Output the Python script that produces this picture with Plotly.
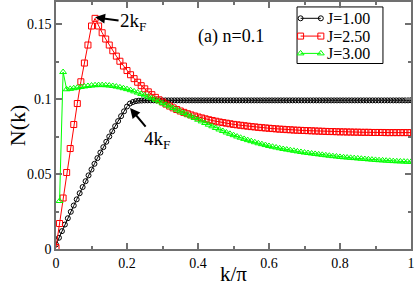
import plotly.graph_objects as go

# ---------------- data ----------------
# J = 1.00 (black circles), k/pi on a 1/120 grid
k_j1 = [i / 120 for i in range(121)]
n_j1 = [0.0030, 0.0075, 0.0119, 0.0163, 0.0205, 0.0248, 0.0290, 0.0331, 0.0372, 0.0413,
        0.0452, 0.0491, 0.0530, 0.0568, 0.0606, 0.0643, 0.0679, 0.0715, 0.0750, 0.0785,
        0.0819, 0.0853, 0.0886, 0.0918, 0.0950, 0.0970, 0.0980, 0.0986, 0.0989, 0.0990,
        0.0991, 0.0991, 0.0991, 0.0991, 0.0991, 0.0991, 0.0991, 0.0991, 0.0991, 0.0991,
        0.0991, 0.0991, 0.0991, 0.0991, 0.0991, 0.0991, 0.0991, 0.0991, 0.0991, 0.0991,
        0.0991, 0.0991, 0.0991, 0.0991, 0.0991, 0.0991, 0.0991, 0.0991, 0.0991, 0.0991,
        0.0991, 0.0991, 0.0991, 0.0991, 0.0991, 0.0991, 0.0991, 0.0991, 0.0991, 0.0991,
        0.0991, 0.0991, 0.0991, 0.0991, 0.0991, 0.0991, 0.0991, 0.0991, 0.0991, 0.0991,
        0.0991, 0.0991, 0.0991, 0.0991, 0.0991, 0.0991, 0.0991, 0.0991, 0.0991, 0.0991,
        0.0991, 0.0991, 0.0991, 0.0991, 0.0991, 0.0991, 0.0991, 0.0991, 0.0991, 0.0991,
        0.0991, 0.0991, 0.0991, 0.0991, 0.0991, 0.0991, 0.0991, 0.0991, 0.0991, 0.0991,
        0.0991, 0.0991, 0.0991, 0.0991, 0.0991, 0.0991, 0.0991, 0.0991, 0.0991, 0.0991,
        0.0992]

# J = 2.50 (red squares), k/pi on a 1/100 grid
k_j25 = [i / 100 for i in range(101)]
n_j25 = [0.0010, 0.0170, 0.0340, 0.0510, 0.0670, 0.0830, 0.0970, 0.1115, 0.1240, 0.1360,
         0.1487, 0.1538, 0.1487, 0.1442, 0.1400, 0.1360, 0.1322, 0.1286, 0.1252, 0.1220,
         0.1190, 0.1162, 0.1136, 0.1112, 0.1089, 0.1068, 0.1048, 0.1029, 0.1011, 0.0995,
         0.0980, 0.0966, 0.0953, 0.0941, 0.0930, 0.0920, 0.0911, 0.0902, 0.0894, 0.0887,
         0.0880, 0.0874, 0.0868, 0.0862, 0.0857, 0.0852, 0.0847, 0.0843, 0.0839, 0.0835,
         0.0831, 0.0828, 0.0825, 0.0822, 0.0819, 0.0816, 0.0814, 0.0811, 0.0809, 0.0807,
         0.0805, 0.0803, 0.0801, 0.0799, 0.0798, 0.0796, 0.0795, 0.0793, 0.0792, 0.0791,
         0.0790, 0.0789, 0.0788, 0.0787, 0.0786, 0.0785, 0.0784, 0.0783, 0.0783, 0.0782,
         0.0781, 0.0781, 0.0780, 0.0780, 0.0779, 0.0779, 0.0778, 0.0778, 0.0778, 0.0777,
         0.0777, 0.0777, 0.0777, 0.0776, 0.0776, 0.0776, 0.0776, 0.0776, 0.0776, 0.0776,
         0.0776]

# J = 3.00 (green triangles), k/pi on a 1/100 grid starting at 0.01
k_j3 = [i / 100 for i in range(1, 101)]
n_j3 = [0.0320, 0.1180, 0.1065, 0.1068, 0.1072, 0.1076, 0.1080, 0.1084, 0.1087, 0.1090,
        0.1092, 0.1093, 0.1093, 0.1092, 0.1090, 0.1087, 0.1083, 0.1078, 0.1072, 0.1066,
        0.1059, 0.1051, 0.1043, 0.1034, 0.1025, 0.1015, 0.1005, 0.0995, 0.0984, 0.0973,
        0.0962, 0.0951, 0.0940, 0.0929, 0.0918, 0.0907, 0.0896, 0.0885, 0.0874, 0.0862,
        0.0851, 0.0840, 0.0829, 0.0818, 0.0807, 0.0797, 0.0787, 0.0777, 0.0768, 0.0759,
        0.0750, 0.0742, 0.0734, 0.0726, 0.0719, 0.0712, 0.0705, 0.0699, 0.0693, 0.0687,
        0.0682, 0.0677, 0.0672, 0.0667, 0.0663, 0.0659, 0.0655, 0.0651, 0.0647, 0.0643,
        0.0640, 0.0637, 0.0634, 0.0631, 0.0628, 0.0625, 0.0622, 0.0619, 0.0617, 0.0614,
        0.0612, 0.0610, 0.0608, 0.0606, 0.0604, 0.0602, 0.0600, 0.0598, 0.0596, 0.0594,
        0.0592, 0.0591, 0.0589, 0.0588, 0.0586, 0.0585, 0.0584, 0.0583, 0.0582, 0.0581]

series_names = ["J=1.00", "J=2.50", "J=3.00"]
series_colors = ["black", "red", "#00ff00"]
series_symbols = ["circle-open", "square-open", "triangle-up-open"]
series_sizes = [5, 6, 6]
x_tickvals = [0, 0.2, 0.4, 0.6, 0.8, 1.0]
x_ticktext = ["0", "0.2", "0.4", "0.6", "0.8", "1"]
y_tickvals = [0, 0.05, 0.1, 0.15]
y_ticktext = ["0", "0.05", "0.1", "0.15"]

FONT = "Liberation Serif"
AXC = "#707070"

fig = go.Figure()
for kx, ny, i in [(k_j1, n_j1, 0), (k_j25, n_j25, 1), (k_j3, n_j3, 2)]:
    fig.add_trace(go.Scatter(x=kx, y=ny, mode="lines+markers", name=series_names[i],
                             showlegend=False,
                             line=dict(color=series_colors[i], width=1),
                             marker=dict(symbol=series_symbols[i], size=series_sizes[i],
                                         color=series_colors[i], line=dict(width=1))))

# custom legend (drawn on an overlay axis spanning the plot area, 0..1)
leg_rows = [0.934, 0.862, 0.792]
for i in range(3):
    fig.add_trace(go.Scatter(x=[0.689, 0.746], y=[leg_rows[i], leg_rows[i]],
                             xaxis="x2", yaxis="y2", mode="lines+markers", showlegend=False,
                             hoverinfo="skip",
                             line=dict(color=series_colors[i], width=1),
                             marker=dict(symbol=series_symbols[i], size=series_sizes[i],
                                         color=series_colors[i], line=dict(width=1))))
    fig.add_annotation(x=0.757, y=leg_rows[i], xref="paper", yref="paper",
                       text=series_names[i], showarrow=False, xanchor="left", yanchor="middle",
                       font=dict(family=FONT, size=16, color="black"))
fig.add_shape(type="rect", xref="paper", yref="paper", x0=0.679, x1=0.921, y0=0.751, y1=0.980,
              line=dict(color="black", width=1), fillcolor="white", layer="below")

axis_common = dict(showgrid=False, zeroline=False, showline=True, linecolor=AXC, linewidth=1.5,
                   mirror="allticks", ticks="inside", ticklen=6, tickcolor=AXC, tickwidth=1.5,
                   automargin=False,
                   tickfont=dict(family=FONT, size=14, color="black"))

fig.update_xaxes(range=[0, 1], tickvals=x_tickvals, ticktext=x_ticktext,
                 minor=dict(dtick=0.1, tick0=0, ticks="inside", ticklen=3, tickcolor=AXC, tickwidth=1.5),
                 **axis_common)
fig.update_yaxes(range=[0, 0.1647], tickvals=y_tickvals, ticktext=y_ticktext,
                 minor=dict(dtick=0.025, tick0=0, ticks="inside", ticklen=3, tickcolor=AXC, tickwidth=1.5),
                 **axis_common)

fig.update_layout(
    xaxis2=dict(overlaying="x", range=[0, 1], visible=False, fixedrange=True),
    yaxis2=dict(overlaying="y", range=[0, 1], visible=False, fixedrange=True),
)

# axis titles
fig.add_annotation(x=0.5, y=-0.103, xref="paper", yref="paper", text="k/π", showarrow=False,
                   xanchor="center", yanchor="middle",
                   font=dict(family=FONT, size=21, color="black"))
fig.add_annotation(x=-0.108, y=0.5, xref="paper", yref="paper", text="N(k)", showarrow=False,
                   xanchor="center", yanchor="middle", textangle=-90,
                   font=dict(family=FONT, size=22, color="black"))

# labelled arrows
fig.add_annotation(x=0.110, y=0.1545, xref="x", yref="y", ax=38, ay=5,
                   text="2k<sub>F</sub>", showarrow=True, arrowhead=2, arrowsize=1,
                   arrowwidth=2, arrowcolor="black", standoff=0, startstandoff=0,
                   font=dict(family=FONT, size=19, color="black"))
fig.add_annotation(x=0.2085, y=0.0940, xref="x", yref="y", ax=27, ay=32,
                   text="4k<sub>F</sub>", showarrow=True, arrowhead=2, arrowsize=1,
                   arrowwidth=2, arrowcolor="black", standoff=0, startstandoff=0,
                   font=dict(family=FONT, size=19, color="black"))
fig.add_annotation(x=0.493, y=0.142, xref="x", yref="y", text="(a) n=0.1",
                   showarrow=False, xanchor="center", yanchor="middle",
                   font=dict(family=FONT, size=18, color="black"))

fig.update_layout(
    width=415, height=286,
    margin=dict(l=56, r=4, t=2, b=37, autoexpand=False),
    paper_bgcolor="white", plot_bgcolor="white",
    font=dict(family=FONT, color="black"),
    showlegend=False,
)

fig.write_html("out.html", config={"displayModeBar": False},
               post_script="document.body.style.margin='0';document.body.style.padding='0';")
